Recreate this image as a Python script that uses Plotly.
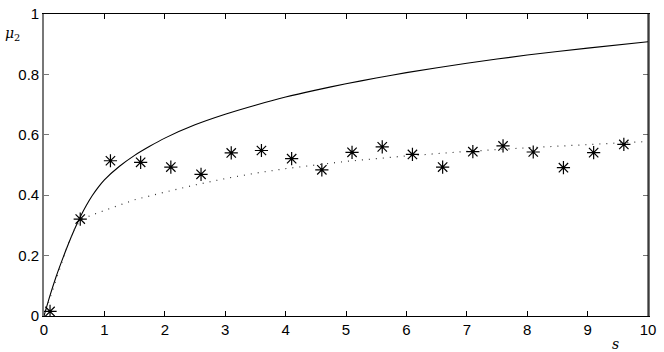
import plotly.graph_objects as go

# asymptotic curve (solid)
solid_s = [0, 0.1, 0.2, 0.3, 0.4, 0.5, 0.6, 0.7, 0.8, 0.9, 1.0, 1.25, 1.5, 1.75,
           2.0, 2.5, 3.0, 3.5, 4.0, 4.5, 5.0, 5.5, 6.0, 7.0, 8.0, 9.0, 10.0]
solid_mu = [0, 0.068, 0.13, 0.185, 0.237, 0.285, 0.328, 0.366, 0.399, 0.427, 0.451,
            0.496, 0.532, 0.562, 0.589, 0.633, 0.668, 0.698, 0.725, 0.748, 0.769,
            0.788, 0.806, 0.837, 0.864, 0.887, 0.908]

# fitted curve (dotted)
dotted_s = [0, 0.1, 0.2, 0.3, 0.4, 0.5, 0.6, 0.8, 1.0, 1.5, 2.0, 2.5, 3.0, 3.5,
            4.0, 5.0, 6.0, 7.0, 8.0, 9.0, 10.0]
dotted_mu = [0, 0.06, 0.125, 0.185, 0.24, 0.285, 0.318, 0.335, 0.35, 0.385, 0.41,
             0.434, 0.455, 0.473, 0.488, 0.512, 0.53, 0.545, 0.557, 0.568, 0.578]

# simulated points (asterisks)
pts_s = [0.1, 0.6, 1.1, 1.6, 2.1, 2.6, 3.1, 3.6, 4.1, 4.6, 5.1, 5.6, 6.1, 6.6,
         7.1, 7.6, 8.1, 8.6, 9.1, 9.6]
pts_mu = [0.015, 0.321, 0.514, 0.509, 0.493, 0.469, 0.54, 0.548, 0.521, 0.484,
          0.542, 0.56, 0.535, 0.493, 0.544, 0.563, 0.543, 0.491, 0.541, 0.568]

x_ticks = list(range(0, 11))
y_ticks = [0, 0.2, 0.4, 0.6, 0.8, 1]
y_tick_text = ["0", "0.2", "0.4", "0.6", "0.8", "1"]

fig = go.Figure()
fig.add_trace(go.Scatter(x=solid_s, y=solid_mu, mode="lines",
                         line=dict(color="black", width=1.1, shape="spline",
                                   smoothing=0.6)))
fig.add_trace(go.Scatter(x=dotted_s, y=dotted_mu, mode="lines",
                         line=dict(color="#333", width=1.2, dash="1px,6px")))
fig.add_trace(go.Scatter(x=pts_s, y=pts_mu, mode="markers",
                         marker=dict(symbol="asterisk-open", size=11, color="black",
                                     line=dict(color="black", width=1.2))))

fig.update_layout(
    width=664, height=352,
    margin=dict(l=44, r=16, t=14, b=36),
    plot_bgcolor="white", paper_bgcolor="white",
    showlegend=False,
    font=dict(family="Liberation Sans", size=15, color="black"),
)
fig.update_xaxes(range=[0, 10], tickvals=x_ticks, ticks="inside", ticklen=5,
                 tickcolor="black", showline=True, linecolor="black",
                 linewidth=1, mirror="ticks", showgrid=False, zeroline=False,
                 automargin=False)
fig.update_yaxes(range=[0, 1], tickvals=y_ticks, ticktext=y_tick_text,
                 ticks="inside", ticklen=5, tickcolor="#777", showline=True,
                 linecolor="#777", linewidth=1.6, mirror="ticks",
                 showgrid=False, zeroline=False, automargin=False)

# right edge drawn crisp black like the reference
fig.add_shape(type="line", xref="paper", yref="paper", x0=1, x1=1, y0=0, y1=1,
              line=dict(color="black", width=1))

fig.add_annotation(text="<i>μ</i><sub>2</sub>", xref="paper", yref="paper",
                   x=-0.068, y=0.97, showarrow=False,
                   font=dict(family="DejaVu Serif", size=14))
fig.add_annotation(text="<i>s</i>", xref="paper", yref="paper",
                   x=0.955, y=-0.125, showarrow=False,
                   font=dict(family="DejaVu Serif", size=14))

# drop the browser's default body margin so the figure sits at the page corner
fig.write_html("out.html", config={"displayModeBar": False},
               post_script="document.body.style.margin='0';")
